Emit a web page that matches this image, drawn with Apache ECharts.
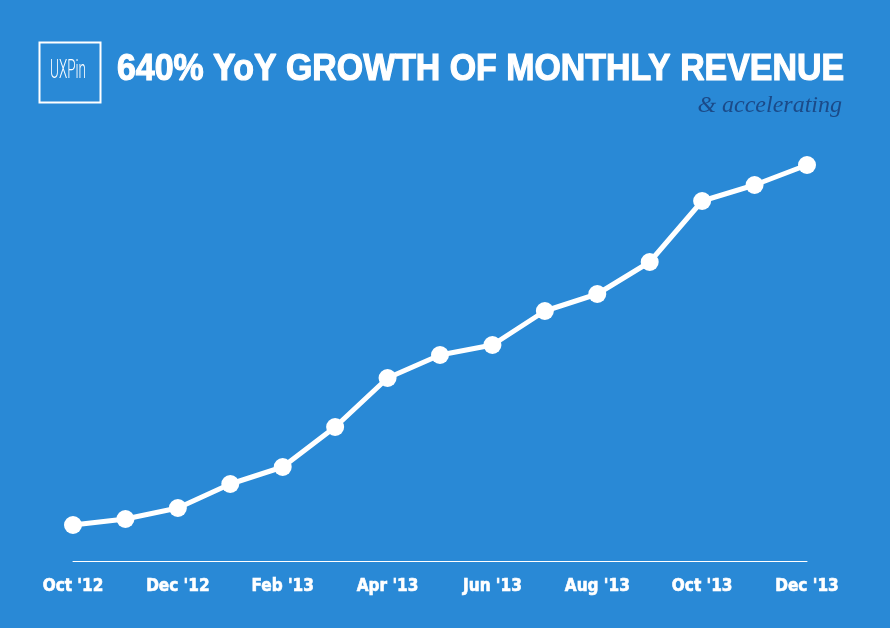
<!DOCTYPE html>
<html>
<head>
<meta charset="utf-8">
<script src="https://cdn.jsdelivr.net/npm/echarts@6/dist/echarts.min.js"></script>
<style>
html,body{margin:0;padding:0;background:#2989d6;}
#c{width:890px;height:628px;}
</style>
</head>
<body>
<div id="c"></div>
<script>
var months = ["Oct '12","Nov '12","Dec '12","Jan '13","Feb '13","Mar '13","Apr '13","May '13","Jun '13","Jul '13","Aug '13","Sep '13","Oct '13","Nov '13","Dec '13"];
var revenue = [36, 42, 53, 77, 94, 134, 183, 206, 216, 250, 267, 299, 360, 376, 396];
var titleText = "640% YoY GROWTH OF MONTHLY REVENUE";
var subtitleText = "& accelerating";
var logoText = "UXPin";

var titleFont = "bold 37px 'Liberation Sans', Arial, sans-serif";
var logoFont = "300 26px Roboto, 'Liberation Sans', sans-serif";
function fitScale(text, font, target) {
  var cv = document.createElement('canvas').getContext('2d');
  cv.font = font;
  return target / cv.measureText(text).width;
}
var titleScale = fitScale(titleText, titleFont, 727);
var logoScale = fitScale(logoText, logoFont, 36);

var chart = echarts.init(document.getElementById('c'), null, {renderer:'canvas'});
var condensed = "'DejaVu Sans Condensed','Liberation Sans Narrow',sans-serif";
chart.setOption({
  backgroundColor: '#2989d6',
  animation: false,
  grid: {left: 73, right: 83, top: 161, bottom: 67, containLabel: false},
  xAxis: {
    type: 'category',
    data: months,
    boundaryGap: false,
    axisLine: {lineStyle: {color: '#ffffff', width: 1}},
    axisTick: {show: false},
    axisLabel: {
      interval: 1,
      color: '#ffffff',
      fontFamily: condensed,
      fontWeight: 'bold',
      fontSize: 17,
      margin: 17,
      textBorderColor: '#ffffff',
      textBorderWidth: 0.6
    },
    splitLine: {show: false}
  },
  yAxis: {
    type: 'value',
    min: 0,
    max: 400,
    show: false,
    splitLine: {show: false}
  },
  series: [{
    type: 'line',
    data: revenue,
    symbol: 'circle',
    symbolSize: 18,
    lineStyle: {color: '#ffffff', width: 5},
    itemStyle: {color: '#ffffff', borderWidth: 0}
  }],
  graphic: [
    {type: 'rect', left: 37, top: 40, shape: {width: 61, height: 60},
     style: {fill: 'none', stroke: '#ffffff', lineWidth: 2}},
    {type: 'text', x: 68, y: 71, scaleX: logoScale, style: {text: logoText, fill: '#ffffff',
      font: logoFont, align: 'center', verticalAlign: 'middle'}},
    {type: 'text', x: 117, y: 70, scaleX: titleScale, style: {text: titleText, fill: '#ffffff',
      stroke: '#ffffff', lineWidth: 1.2,
      font: titleFont, align: 'left', verticalAlign: 'middle'}},
    {type: 'text', x: 842, y: 106, style: {text: subtitleText, fill: '#1b4a88',
      font: "italic 24px 'Liberation Serif','DejaVu Serif',serif", align: 'right', verticalAlign: 'middle'}}
  ]
});
</script>
</body>
</html>
